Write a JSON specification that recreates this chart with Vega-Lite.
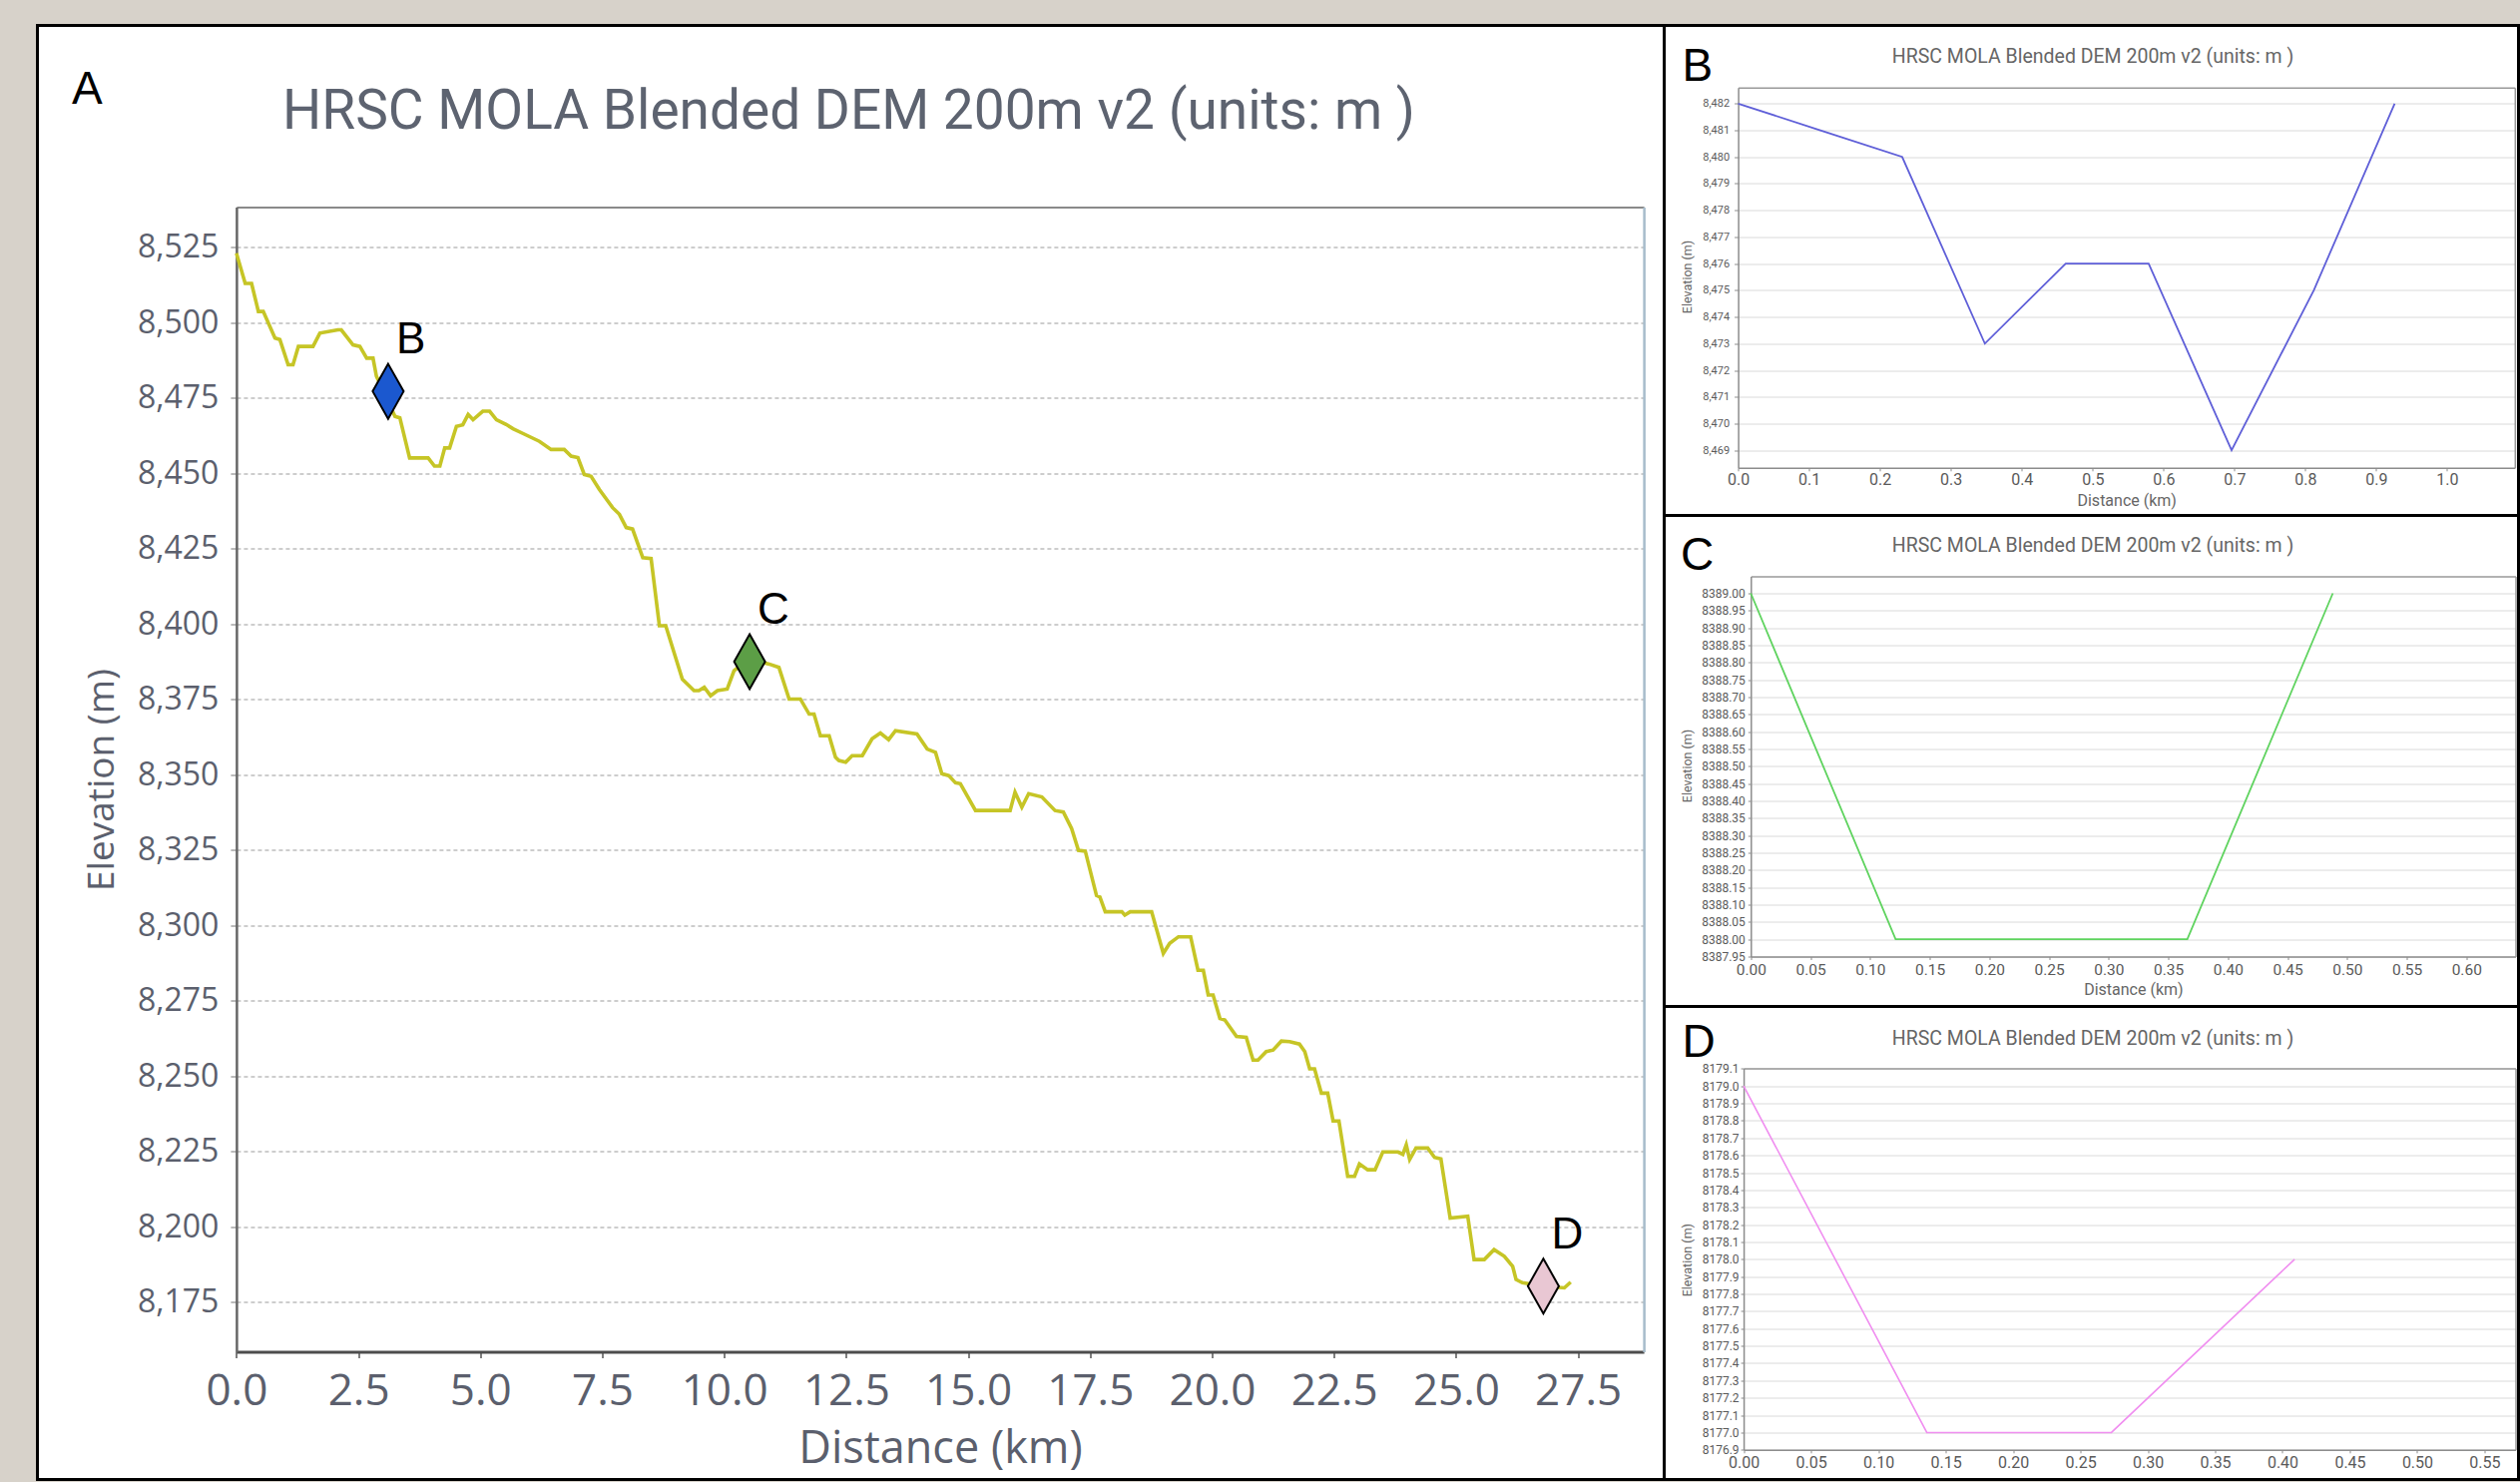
{
  "$schema": "https://vega.github.io/schema/vega-lite/v6.json",
  "background": "#d7d2ca",
  "padding": {"left": 35.5, "top": 23.5, "right": 0, "bottom": 0},
  "config": {
    "view": {"fill": "white", "stroke": "black", "strokeWidth": 3},
    "axis": {"labelFlush": false, "labelOverlap": false, "titleFontWeight": "normal", "labelFontWeight": "normal"}
  },
  "datasets": {
    "profileA": [
      {"km":0,"elev":8523},{"km":0.18,"elev":8513},{"km":0.31,"elev":8513},{"km":0.45,"elev":8503.7},{"km":0.55,"elev":8503.7},
      {"km":0.79,"elev":8494.9},{"km":0.89,"elev":8494.4},{"km":1.06,"elev":8486},{"km":1.16,"elev":8486},{"km":1.27,"elev":8492.1},
      {"km":1.57,"elev":8492.1},{"km":1.71,"elev":8496.5},{"km":2.08,"elev":8497.6},{"km":2.15,"elev":8497.6},{"km":2.39,"elev":8492.6},
      {"km":2.53,"elev":8492.1},{"km":2.67,"elev":8488.2},{"km":2.8,"elev":8488.2},{"km":2.87,"elev":8482.2},{"km":3.25,"elev":8468.9},
      {"km":3.35,"elev":8468.4},{"km":3.55,"elev":8455.1},{"km":3.93,"elev":8455.1},{"km":4.06,"elev":8452.4},{"km":4.17,"elev":8452.4},
      {"km":4.27,"elev":8458.4},{"km":4.37,"elev":8458.4},{"km":4.51,"elev":8465.6},{"km":4.64,"elev":8466.1},{"km":4.75,"elev":8469.5},
      {"km":4.85,"elev":8467.8},{"km":5.05,"elev":8470.6},{"km":5.19,"elev":8470.6},{"km":5.33,"elev":8467.8},{"km":5.53,"elev":8466.2},
      {"km":5.67,"elev":8464.8},{"km":5.9,"elev":8463},{"km":6.21,"elev":8460.6},{"km":6.45,"elev":8457.9},{"km":6.72,"elev":8457.9},
      {"km":6.86,"elev":8455.7},{"km":7.0,"elev":8455.2},{"km":7.13,"elev":8449.6},{"km":7.27,"elev":8449.0},{"km":7.44,"elev":8444.6},
      {"km":7.71,"elev":8438.6},{"km":7.85,"elev":8436.4},{"km":7.99,"elev":8432.0},{"km":8.12,"elev":8431.5},{"km":8.33,"elev":8422.0},
      {"km":8.5,"elev":8421.7},{"km":8.67,"elev":8399.4},{"km":8.8,"elev":8399.4},{"km":9.14,"elev":8381.7},{"km":9.38,"elev":8377.9},
      {"km":9.48,"elev":8377.9},{"km":9.59,"elev":8379.0},{"km":9.72,"elev":8376.2},{"km":9.86,"elev":8377.9},{"km":10.06,"elev":8378.4},
      {"km":10.2,"elev":8384.5},{"km":10.5,"elev":8388.5},{"km":10.92,"elev":8386.7},{"km":11.12,"elev":8385.6},{"km":11.33,"elev":8375.1},
      {"km":11.56,"elev":8375.1},{"km":11.74,"elev":8370.1},{"km":11.84,"elev":8370.1},{"km":11.97,"elev":8362.9},{"km":12.15,"elev":8362.9},
      {"km":12.28,"elev":8355.8},{"km":12.35,"elev":8354.7},{"km":12.49,"elev":8354.1},{"km":12.62,"elev":8356.3},{"km":12.83,"elev":8356.3},
      {"km":13.03,"elev":8361.9},{"km":13.2,"elev":8363.8},{"km":13.37,"elev":8361.6},{"km":13.51,"elev":8364.6},{"km":13.95,"elev":8363.5},
      {"km":14.16,"elev":8358.5},{"km":14.33,"elev":8357.4},{"km":14.46,"elev":8350.3},{"km":14.6,"elev":8349.7},{"km":14.74,"elev":8347.3},
      {"km":14.84,"elev":8347.0},{"km":15.15,"elev":8338.1},{"km":15.86,"elev":8338.1},{"km":15.96,"elev":8344.2},{"km":16.1,"elev":8339.2},
      {"km":16.24,"elev":8343.7},{"km":16.51,"elev":8342.6},{"km":16.78,"elev":8338.1},{"km":16.95,"elev":8337.6},{"km":17.12,"elev":8332.1},
      {"km":17.26,"elev":8324.9},{"km":17.4,"elev":8324.6},{"km":17.63,"elev":8309.9},{"km":17.7,"elev":8309.4},{"km":17.81,"elev":8304.5},
      {"km":18.15,"elev":8304.5},{"km":18.21,"elev":8303.4},{"km":18.32,"elev":8304.5},{"km":18.76,"elev":8304.5},{"km":19.0,"elev":8290.7},
      {"km":19.13,"elev":8294.0},{"km":19.31,"elev":8296.2},{"km":19.56,"elev":8296.2},{"km":19.71,"elev":8285.1},{"km":19.82,"elev":8285.1},
      {"km":19.92,"elev":8276.9},{"km":20.02,"elev":8276.9},{"km":20.16,"elev":8269.1},{"km":20.26,"elev":8268.6},{"km":20.5,"elev":8263.1},
      {"km":20.7,"elev":8262.8},{"km":20.84,"elev":8255.3},{"km":20.94,"elev":8255.3},{"km":21.11,"elev":8258.1},{"km":21.25,"elev":8258.6},
      {"km":21.42,"elev":8261.6},{"km":21.59,"elev":8261.4},{"km":21.79,"elev":8260.6},{"km":21.9,"elev":8258.1},{"km":22.0,"elev":8252.4},
      {"km":22.1,"elev":8252.4},{"km":22.24,"elev":8244.3},{"km":22.37,"elev":8244.3},{"km":22.48,"elev":8235.1},{"km":22.6,"elev":8235.1},
      {"km":22.78,"elev":8216.7},{"km":22.92,"elev":8216.7},{"km":23.02,"elev":8220.8},{"km":23.19,"elev":8218.9},{"km":23.34,"elev":8218.9},
      {"km":23.5,"elev":8224.8},{"km":23.81,"elev":8224.8},{"km":23.91,"elev":8224.0},{"km":23.98,"elev":8227.2},{"km":24.05,"elev":8222.3},
      {"km":24.18,"elev":8226.1},{"km":24.42,"elev":8226.1},{"km":24.56,"elev":8223.0},{"km":24.69,"elev":8222.5},{"km":24.88,"elev":8202.9},
      {"km":25.24,"elev":8203.5},{"km":25.37,"elev":8189.1},{"km":25.58,"elev":8189.1},{"km":25.78,"elev":8192.4},{"km":25.99,"elev":8190.2},
      {"km":26.16,"elev":8186.9},{"km":26.23,"elev":8182.5},{"km":26.36,"elev":8181.4},{"km":26.79,"elev":8180.3},{"km":27.22,"elev":8179.7},
      {"km":27.35,"elev":8181.6}
    ],
    "markers": [
      {"site":"B","km":3.11,"elev":8477.2},
      {"site":"C","km":10.52,"elev":8387.5},
      {"site":"D","km":26.79,"elev":8180.3}
    ],
    "b": [
      {"km":0,"elev":8482},{"km":0.116,"elev":8481},{"km":0.2314,"elev":8480},{"km":0.348,"elev":8473},{"km":0.462,"elev":8476},
      {"km":0.579,"elev":8476},{"km":0.696,"elev":8469},{"km":0.812,"elev":8475},{"km":0.926,"elev":8482}
    ],
    "c": [
      {"km":0,"elev":8389},{"km":0.1214,"elev":8388},{"km":0.2428,"elev":8388},{"km":0.366,"elev":8388},{"km":0.488,"elev":8389}
    ],
    "d": [
      {"km":0,"elev":8179},{"km":0.136,"elev":8177},{"km":0.273,"elev":8177},{"km":0.409,"elev":8178}
    ]
  },
  "hconcat": [
    {
      "width": 1630,
      "height": 1457,
      "layer": [
        {
          "data": {"name": "profileA"},
          "mark": {"type": "line", "color": "#c6c526", "strokeWidth": 3.6},
          "encoding": {
            "x": {"field": "km", "type": "quantitative",
              "scale": {"domain": [0, 28.85], "range": [199.4, 1609.6], "nice": false, "zero": false},
              "axis": {"orient": "bottom", "offset": -128, "values": [0,2.5,5,7.5,10,12.5,15,17.5,20,22.5,25,27.5], "format": ".1f",
                "grid": false, "domainColor": "#4d4d4d", "domainWidth": 3, "tickColor": "#555555", "tickSize": 6, "tickWidth": 1.5,
                "labelFont": "Open Sans", "labelFontSize": 44, "labelColor": "#5b5f6d", "labelPadding": 11.7,
                "title": "Distance (km)", "titleFont": "Open Sans", "titleFontSize": 45, "titleColor": "#5b5f6d",
                "titleX": 904.5, "titleY": 111, "titleAlign": "center", "titleBaseline": "alphabetic", "titleAngle": 0}},
            "y": {"field": "elev", "type": "quantitative",
              "scale": {"domain": [8158.5, 8538.34], "range": [1329, 182], "nice": false, "zero": false},
              "axis": {"orient": "left", "offset": -199.4, "values": [8175,8200,8225,8250,8275,8300,8325,8350,8375,8400,8425,8450,8475,8500,8525], "format": ",d",
                "grid": true, "gridColor": "#bdbdbd", "gridDash": [4,3], "gridWidth": 1.6,
                "domainColor": "#666666", "domainWidth": 2.5, "tickColor": "#777777", "tickSize": 6,
                "labelFont": "Open Sans", "labelFontSize": 32, "labelColor": "#5b5f6d", "labelPadding": 12,
                "title": "Elevation (m)", "titleFont": "Open Sans", "titleFontSize": 37, "titleColor": "#5b5f6d",
                "titleX": -134.4, "titleY": 755.5, "titleAngle": -90, "titleAlign": "center", "titleBaseline": "middle"}}
          }
        },
        {
          "data": {"name": "markers"},
          "mark": {"type": "point", "shape": "M0,-1L0.564,0L0,1L-0.564,0Z", "size": 3025, "filled": true, "stroke": "black", "strokeWidth": 2, "opacity": 1},
          "encoding": {
            "x": {"field": "km", "type": "quantitative",
              "axis": {"orient": "top", "offset": -182, "domainColor": "#8a8a8a", "domainWidth": 2, "ticks": false, "labels": false, "grid": false,
                "title": "A", "titleFont": "Liberation Sans", "titleFontSize": 46, "titleColor": "#000000",
                "titleX": 34, "titleY": -103.7, "titleAlign": "left", "titleBaseline": "alphabetic", "titleAngle": 0}},
            "y": {"field": "elev", "type": "quantitative",
              "axis": {"orient": "right", "offset": -20.4, "domainColor": "#a7bccb", "domainWidth": 2.5, "ticks": false, "labels": false, "grid": false,
                "title": "HRSC MOLA Blended DEM 200m v2 (units: m )", "titleFont": "Roboto", "titleFontSize": 55, "titleColor": "#5d6370",
                "titleX": -797.1, "titleY": 103, "titleAngle": 0, "titleAlign": "center", "titleBaseline": "alphabetic"}},
            "color": {"field": "site", "type": "nominal",
              "scale": {"domain": ["B","C","D"], "range": ["#1b58cf","#5c9e46","#e9c7d3"]}, "legend": null}
          }
        },
        {
          "data": {"name": "markers"},
          "mark": {"type": "text", "align": "left", "baseline": "alphabetic", "dx": 8, "dy": -38, "font": "Liberation Sans", "fontSize": 44, "color": "#000000"},
          "encoding": {
            "x": {"field": "km", "type": "quantitative", "axis": null},
            "y": {"field": "elev", "type": "quantitative", "axis": null},
            "text": {"field": "site"}
          }
        }
      ]
    },
    {
      "vconcat": [
        {
          "width": 856,
          "height": 491,
          "layer": [
            {
              "data": {"name": "b"},
              "mark": {"type": "line", "color": "#5f5fd8", "strokeWidth": 1.8},
              "encoding": {
                "x": {"field": "km", "type": "quantitative",
                  "scale": {"domain": [0, 1.0955], "range": [74.1, 852.3], "nice": false, "zero": false},
                  "axis": {"orient": "bottom", "offset": -47.7, "values": [0,0.1,0.2,0.3,0.4,0.5,0.6,0.7,0.8,0.9,1.0], "format": ".1f",
                    "grid": false, "domainColor": "#8c8c8c", "domainWidth": 1.5, "tickColor": "#8c8c8c", "tickSize": 3,
                    "labelFont": "Roboto", "labelFontSize": 16, "labelColor": "#5a5a5a", "labelPadding": 1,
                    "title": "Distance (km)", "titleFont": "Roboto", "titleFontSize": 16, "titleColor": "#666666",
                    "titleX": 463.2, "titleY": 38, "titleAlign": "center", "titleBaseline": "alphabetic", "titleAngle": 0}},
                "y": {"field": "elev", "type": "quantitative",
                  "scale": {"domain": [8468.34, 8482.6], "range": [443.3, 62.3], "nice": false, "zero": false},
                  "axis": {"orient": "left", "offset": -74.1, "values": [8469,8470,8471,8472,8473,8474,8475,8476,8477,8478,8479,8480,8481,8482], "format": ",d",
                    "grid": true, "gridColor": "#dadada", "gridWidth": 1,
                    "domainColor": "#8c8c8c", "domainWidth": 1.5, "tickColor": "#8c8c8c", "tickSize": 4,
                    "labelFont": "Roboto", "labelFontSize": 11, "labelColor": "#5a5a5a", "labelPadding": 5,
                    "title": "Elevation (m)", "titleFont": "Roboto", "titleFontSize": 12.5, "titleColor": "#666666",
                    "titleX": -51, "titleY": 251.5, "titleAngle": -90, "titleAlign": "center", "titleBaseline": "middle"}}
              }
            },
            {
              "data": {"name": "b"},
              "mark": {"type": "point", "opacity": 0},
              "encoding": {
                "x": {"field": "km", "type": "quantitative",
                  "axis": {"orient": "top", "offset": -62.3, "domainColor": "#999999", "domainWidth": 1.5, "ticks": false, "labels": false, "grid": false,
                    "title": "B", "titleFont": "Liberation Sans", "titleFontSize": 46, "titleColor": "#000000",
                    "titleX": 17.5, "titleY": -7.3, "titleAlign": "left", "titleBaseline": "alphabetic", "titleAngle": 0}},
                "y": {"field": "elev", "type": "quantitative",
                  "axis": {"orient": "right", "offset": -3.7, "domainColor": "#999999", "domainWidth": 1.5, "ticks": false, "labels": false, "grid": false,
                    "title": "HRSC MOLA Blended DEM 200m v2 (units: m )", "titleFont": "Roboto", "titleFontSize": 19.5, "titleColor": "#666666",
                    "titleX": -423.3, "titleY": 36.5, "titleAngle": 0, "titleAlign": "center", "titleBaseline": "alphabetic"}}
              }
            }
          ]
        },
        {
          "width": 856,
          "height": 492,
          "layer": [
            {
              "data": {"name": "c"},
              "mark": {"type": "line", "color": "#5fd35f", "strokeWidth": 1.8},
              "encoding": {
                "x": {"field": "km", "type": "quantitative",
                  "scale": {"domain": [0, 0.6412], "range": [86.8, 853], "nice": false, "zero": false},
                  "axis": {"orient": "bottom", "offset": -50, "values": [0,0.05,0.1,0.15,0.2,0.25,0.3,0.35,0.4,0.45,0.5,0.55,0.6], "format": ".2f",
                    "grid": false, "domainColor": "#8c8c8c", "domainWidth": 1.5, "tickColor": "#8c8c8c", "tickSize": 3,
                    "labelFont": "Roboto", "labelFontSize": 15.5, "labelColor": "#5a5a5a", "labelPadding": 2.8,
                    "title": "Distance (km)", "titleFont": "Roboto", "titleFontSize": 16, "titleColor": "#666666",
                    "titleX": 469.9, "titleY": 37.5, "titleAlign": "center", "titleBaseline": "alphabetic", "titleAngle": 0}},
                "y": {"field": "elev", "type": "quantitative",
                  "scale": {"domain": [8387.95, 8389.049], "range": [442, 61], "nice": false, "zero": false},
                  "axis": {"orient": "left", "offset": -86.8, "values": [8387.95,8388,8388.05,8388.1,8388.15,8388.2,8388.25,8388.3,8388.35,8388.4,8388.45,8388.5,8388.55,8388.6,8388.65,8388.7,8388.75,8388.8,8388.85,8388.9,8388.95,8389], "format": ".2f",
                    "grid": true, "gridColor": "#dadada", "gridWidth": 1,
                    "domainColor": "#8c8c8c", "domainWidth": 1.5, "tickColor": "#8c8c8c", "tickSize": 3,
                    "labelFont": "Roboto", "labelFontSize": 12, "labelColor": "#5a5a5a", "labelPadding": 3,
                    "title": "Elevation (m)", "titleFont": "Roboto", "titleFontSize": 12.5, "titleColor": "#666666",
                    "titleX": -63.5, "titleY": 250.5, "titleAngle": -90, "titleAlign": "center", "titleBaseline": "middle"}}
              }
            },
            {
              "data": {"name": "c"},
              "mark": {"type": "point", "opacity": 0},
              "encoding": {
                "x": {"field": "km", "type": "quantitative",
                  "axis": {"orient": "top", "offset": -61, "domainColor": "#999999", "domainWidth": 1.5, "ticks": false, "labels": false, "grid": false,
                    "title": "C", "titleFont": "Liberation Sans", "titleFontSize": 46, "titleColor": "#000000",
                    "titleX": 16, "titleY": -7, "titleAlign": "left", "titleBaseline": "alphabetic", "titleAngle": 0}},
                "y": {"field": "elev", "type": "quantitative",
                  "axis": {"orient": "right", "offset": -3, "domainColor": "#999999", "domainWidth": 1.5, "ticks": false, "labels": false, "grid": false,
                    "title": "HRSC MOLA Blended DEM 200m v2 (units: m )", "titleFont": "Roboto", "titleFontSize": 19.5, "titleColor": "#666666",
                    "titleX": -424, "titleY": 35.5, "titleAngle": 0, "titleAlign": "center", "titleBaseline": "alphabetic"}}
              }
            }
          ]
        },
        {
          "width": 856,
          "height": 474,
          "layer": [
            {
              "data": {"name": "d"},
              "mark": {"type": "line", "color": "#f08ef0", "strokeWidth": 1.6},
              "encoding": {
                "x": {"field": "km", "type": "quantitative",
                  "scale": {"domain": [0, 0.573], "range": [79.6, 853], "nice": false, "zero": false},
                  "axis": {"orient": "bottom", "offset": -29.7, "values": [0,0.05,0.1,0.15,0.2,0.25,0.3,0.35,0.4,0.45,0.5,0.55], "format": ".2f",
                    "grid": false, "domainColor": "#8c8c8c", "domainWidth": 1.5, "tickColor": "#8c8c8c", "tickSize": 3,
                    "labelFont": "Roboto", "labelFontSize": 16, "labelColor": "#5a5a5a", "labelPadding": 1.7,
                    "title": null}},
                "y": {"field": "elev", "type": "quantitative",
                  "scale": {"domain": [8176.9, 8179.102], "range": [444.3, 62], "nice": false, "zero": false},
                  "axis": {"orient": "left", "offset": -79.6, "values": [8176.9,8177,8177.1,8177.2,8177.3,8177.4,8177.5,8177.6,8177.7,8177.8,8177.9,8178,8178.1,8178.2,8178.3,8178.4,8178.5,8178.6,8178.7,8178.8,8178.9,8179,8179.1], "format": ".1f",
                    "grid": true, "gridColor": "#dadada", "gridWidth": 1,
                    "domainColor": "#8c8c8c", "domainWidth": 1.5, "tickColor": "#8c8c8c", "tickSize": 3,
                    "labelFont": "Roboto", "labelFontSize": 12, "labelColor": "#5a5a5a", "labelPadding": 2,
                    "title": "Elevation (m)", "titleFont": "Roboto", "titleFontSize": 12.5, "titleColor": "#666666",
                    "titleX": -56.3, "titleY": 253.7, "titleAngle": -90, "titleAlign": "center", "titleBaseline": "middle"}}
              }
            },
            {
              "data": {"name": "d"},
              "mark": {"type": "point", "opacity": 0},
              "encoding": {
                "x": {"field": "km", "type": "quantitative",
                  "axis": {"orient": "top", "offset": -62, "domainColor": "#999999", "domainWidth": 1.5, "ticks": false, "labels": false, "grid": false,
                    "title": "D", "titleFont": "Liberation Sans", "titleFontSize": 46, "titleColor": "#000000",
                    "titleX": 17.6, "titleY": -11.7, "titleAlign": "left", "titleBaseline": "alphabetic", "titleAngle": 0}},
                "y": {"field": "elev", "type": "quantitative",
                  "axis": {"orient": "right", "offset": -3, "domainColor": "#999999", "domainWidth": 1.5, "ticks": false, "labels": false, "grid": false,
                    "title": "HRSC MOLA Blended DEM 200m v2 (units: m )", "titleFont": "Roboto", "titleFontSize": 19.5, "titleColor": "#666666",
                    "titleX": -424, "titleY": 38, "titleAngle": 0, "titleAlign": "center", "titleBaseline": "alphabetic"}}
              }
            }
          ]
        }
      ],
      "spacing": 0,
      "bounds": "flush"
    }
  ],
  "spacing": 0,
  "bounds": "flush"
}
